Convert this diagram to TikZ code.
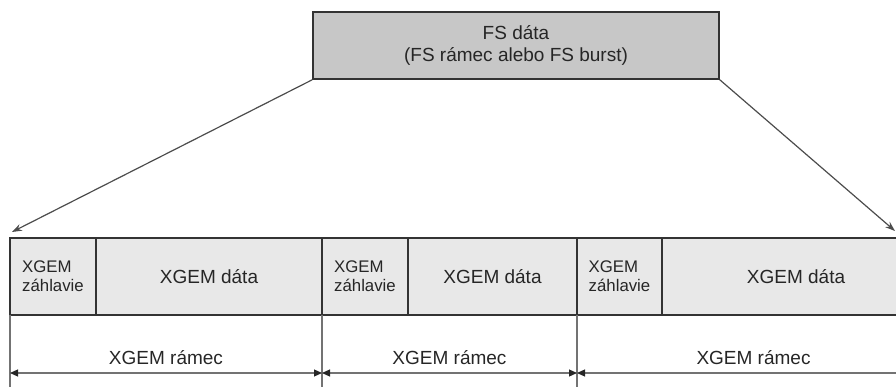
\documentclass[tikz,border=0pt]{standalone}
\usepackage{fontspec}
\setmainfont{Liberation Sans}
\usetikzlibrary{arrows.meta}

\begin{document}
\begin{tikzpicture}[x=1pt, y=-1pt,
  cell/.style={draw=black!80, line width=1.6pt, fill=black!9, inner sep=0pt, outer sep=0pt,
    minimum height=77pt, anchor=north west, text=black!85, font=\fontsize{19}{21}\selectfont},
  hdr/.style={cell, align=left, font=\fontsize{16.8}{19}\selectfont},
  mera/.style={draw=black!55, line width=1.2pt,
    {Triangle[length=8pt,width=7pt,color=black!85]}-{Triangle[length=8pt,width=7pt,color=black!85]}}
]

% rozmer obrazka
\useasboundingbox (0,0) rectangle (896,387);
\clip (0,0) rectangle (896,387);

% horny blok FS
\node[draw=black!80, line width=1.6pt, fill=black!22, minimum width=406pt, minimum height=67pt,
  align=center, text=black!85, font=\fontsize{19}{22}\selectfont] (fs) at (516,45.5)
  {FS dáta\\(FS rámec alebo FS burst)};

% riadok XGEM ramcov
\node[hdr, minimum width=86pt] (h1) at (10,238) {XGEM\\záhlavie};
\node[cell, minimum width=226pt] (d1) at (h1.north east) {XGEM dáta};
\node[hdr, minimum width=86pt] (h2) at (d1.north east) {XGEM\\záhlavie};
\node[cell, minimum width=169pt] (d2) at (h2.north east) {XGEM dáta};
\node[hdr, minimum width=85pt] (h3) at (d2.north east) {XGEM\\záhlavie};
\node[cell, minimum width=268pt] (d3) at (h3.north east) {XGEM dáta};

% sipky z horneho bloku
\coordinate (L) at (12,232);
\coordinate (R) at (895,231);
\draw[black!70, line width=1.2pt, -{Stealth[length=10pt,width=7pt]}] (fs.south west) -- (L);
\draw[black!70, line width=1.2pt, -{Stealth[length=10pt,width=7pt]}] (fs.south east) -- (R);

% zvisle pomocne ciary
\draw[black!55, line width=1.1pt] (h1.south west) -- ++(0,80);
\draw[black!55, line width=1.1pt] (h2.south west) -- ++(0,80);
\draw[black!55, line width=1.1pt] (h3.south west) -- ++(0,80);
\draw[black!55, line width=1.1pt] (d3.south east) -- ++(0,80);

% kóty XGEM ramcov
\coordinate (m0) at (10,373);
\coordinate (m1) at (322,373);
\coordinate (m2) at (577,373);
\coordinate (m3) at (930,373);
\draw[mera] (m0) -- node[above=4pt, text=black!85, font=\fontsize{19}{21}\selectfont] (r1) {XGEM rámec} (m1);
\draw[mera] (m1) -- node[above=4pt, text=black!85, font=\fontsize{19}{21}\selectfont] (r2) {XGEM rámec} (m2);
\draw[mera] (m2) -- node[above=4pt, text=black!85, font=\fontsize{19}{21}\selectfont] (r3) {XGEM rámec} (m3);

\end{tikzpicture}
\end{document}
